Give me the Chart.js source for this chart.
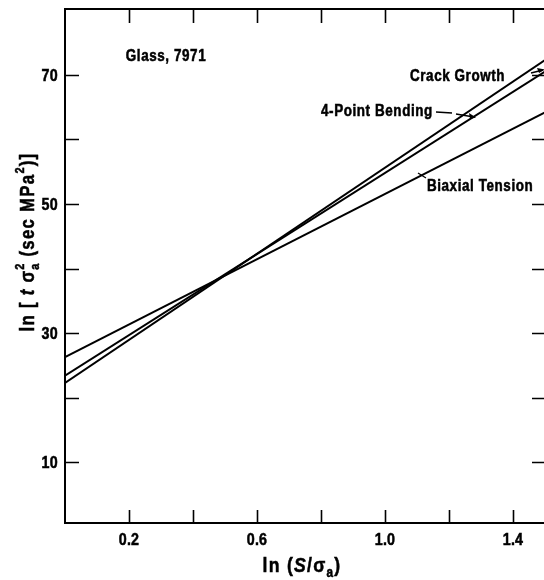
<!DOCTYPE html>
<html>
<head>
<meta charset="utf-8">
<script src="https://cdn.jsdelivr.net/npm/chart.js@4/dist/chart.umd.min.js"></script>
<style>
  html, body { margin: 0; padding: 0; background: #fff; width: 544px; height: 580px; overflow: hidden; }
  canvas { display: block; }
</style>
</head>
<body>
<canvas id="c" width="550" height="580"></canvas>
<script>
// ---- data ----
const xEnds = [0, 1.5];
const crackGrowth = [22.3, 72.3];
const fourPointBending = [23.4, 70.5];
const biaxialTension = [26.3, 64.2];

const xTickValues = [0.2, 0.4, 0.6, 0.8, 1.0, 1.2, 1.4];
const xTickLabels = ['0.2', '0.6', '1.0', '1.4'];
const yTickValues = [10, 20, 30, 40, 50, 60, 70];
const yTickLabels = ['10', '30', '50', '70'];

const seriesNames = ['Crack Growth', '4-Point Bending', 'Biaxial Tension'];
const noteText = 'Glass, 7971';

// ---- styling / layout ----
const FF = "'Liberation Sans', Arial, sans-serif";
const SX = 0.84; // horizontal condensing to mimic a condensed face
const TEXT_STROKE = 0.45;

const annotations = [
  { text: noteText,       x: 0.19,  y: 73.0 },
  { text: seriesNames[0], x: 1.078, y: 70.0 },
  { text: seriesNames[1], x: 0.80,  y: 64.5 },
  { text: seriesNames[2], x: 1.131, y: 52.9 }
];

function pts(xs, ys) { return xs.map((x, i) => ({ x: x, y: ys[i] })); }

function fontOf(s) { return (s.italic ? 'italic ' : '') + 'bold ' + s.size + 'px ' + FF; }

function heavyText(ctx, t) {
  ctx.fillText(t, 0, 0);
  ctx.lineWidth = TEXT_STROKE / SX;
  ctx.strokeText(t, 0, 0);
}

function richWidth(ctx, segs) {
  let cx = 0, prevStart = 0, prevW = 0;
  for (const s of segs) {
    ctx.font = fontOf(s);
    const w = ctx.measureText(s.t).width * SX;
    if (s.stack) { cx = prevStart + Math.max(prevW, w); prevW = Math.max(prevW, w); }
    else { prevStart = cx; prevW = w; cx += w; }
  }
  return cx;
}
function drawRich(ctx, segs, x, y) {
  let cx = x, prevStart = x, prevW = 0;
  for (const s of segs) {
    ctx.font = fontOf(s);
    const w = ctx.measureText(s.t).width * SX;
    let at;
    if (s.stack) { at = prevStart; cx = prevStart + Math.max(prevW, w); prevW = Math.max(prevW, w); }
    else { at = cx; prevStart = cx; prevW = w; cx += w; }
    ctx.save();
    ctx.translate(at, y + (s.dy || 0));
    ctx.scale(SX, 1);
    heavyText(ctx, s.t);
    ctx.restore();
  }
}
function condensedText(ctx, t, x, y, align) {
  const w = ctx.measureText(t).width * SX;
  let x0 = x;
  if (align === 'right') x0 = x - w;
  else if (align === 'center') x0 = x - w / 2;
  ctx.save();
  ctx.translate(x0, y);
  ctx.scale(SX, 1);
  ctx.textAlign = 'left';
  heavyText(ctx, t);
  ctx.restore();
}

const framePlugin = {
  id: 'frame',
  afterDraw(chart) {
    const ctx = chart.ctx;
    const xs = chart.scales.x, ys = chart.scales.y;
    const a = chart.chartArea;
    ctx.save();
    ctx.strokeStyle = '#000';
    ctx.fillStyle = '#000';
    ctx.lineWidth = 2;
    ctx.beginPath();
    ctx.moveTo(a.left, a.top); ctx.lineTo(a.right, a.top);
    ctx.moveTo(a.left, a.top - 1); ctx.lineTo(a.left, a.bottom + 1);
    ctx.moveTo(a.left, a.bottom); ctx.lineTo(a.right, a.bottom);
    ctx.moveTo(a.right, a.top); ctx.lineTo(a.right, a.bottom);
    ctx.stroke();
    ctx.lineWidth = 1.6;
    ctx.beginPath();
    for (const v of xTickValues) {
      const px = Math.round(xs.getPixelForValue(v)) + 0.5;
      ctx.moveTo(px, a.bottom); ctx.lineTo(px, a.bottom - 13);
      ctx.moveTo(px, a.top); ctx.lineTo(px, a.top + 14);
    }
    for (const v of yTickValues) {
      const py = Math.round(ys.getPixelForValue(v)) + 0.5;
      ctx.moveTo(a.left, py); ctx.lineTo(a.left + 14, py);
      ctx.moveTo(a.right, py); ctx.lineTo(a.right - 13, py);
    }
    ctx.stroke();

    // tick labels, placed through the scales
    ctx.textBaseline = 'alphabetic';
    ctx.font = 'bold 17px ' + FF;
    ctx.letterSpacing = '0.3px';
    for (const t of xTickLabels) {
      condensedText(ctx, t, xs.getPixelForValue(parseFloat(t)), a.bottom + 22, 'center');
    }
    for (const t of yTickLabels) {
      condensedText(ctx, t, a.left - 7, ys.getPixelForValue(parseFloat(t)) + 6, 'right');
    }

    // annotations
    ctx.font = 'bold 16px ' + FF;
    ctx.letterSpacing = '0.7px';
    for (const an of annotations) {
      condensedText(ctx, an.text, xs.getPixelForValue(an.x), ys.getPixelForValue(an.y) + 6, 'left');
    }
    ctx.letterSpacing = '0px';

    // leaders
    ctx.lineWidth = 1.3;
    ctx.beginPath();
    ctx.moveTo(436, 112); ctx.lineTo(452, 113);
    ctx.moveTo(456, 114); ctx.lineTo(474, 117);
    ctx.moveTo(418, 173); ctx.lineTo(426, 178);
    ctx.moveTo(531, 73); ctx.lineTo(543, 70);
    ctx.stroke();
    ctx.beginPath();
    ctx.moveTo(476, 117.5); ctx.lineTo(469, 113); ctx.lineTo(470, 119); ctx.closePath();
    ctx.moveTo(545, 69.5); ctx.lineTo(537, 68); ctx.lineTo(539, 73); ctx.closePath();
    ctx.fill();

    // axis titles
    ctx.letterSpacing = '1.5px';
    const xt = [
      { t: 'ln (', size: 21 },
      { t: 'S', size: 21, italic: true },
      { t: '/\u03C3', size: 21 },
      { t: 'a', size: 14, dy: 5 },
      { t: ')', size: 21 }
    ];
    const xw = richWidth(ctx, xt);
    drawRich(ctx, xt, 302 - xw / 2, 572);

    const yt = [
      { t: 'ln [ ', size: 20 },
      { t: 't', size: 20, italic: true },
      { t: ' \u03C3', size: 20 },
      { t: 'a', size: 13, dy: 5 },
      { t: '2', size: 13, dy: -10, stack: true },
      { t: ' (sec MPa', size: 20 },
      { t: '2', size: 13, dy: -10 },
      { t: ')]', size: 20 }
    ];
    const yw = richWidth(ctx, yt);
    ctx.translate(34, 242);
    ctx.rotate(-Math.PI / 2);
    drawRich(ctx, yt, -yw / 2, 0);
    ctx.restore();
  }
};

new Chart(document.getElementById('c'), {
  type: 'scatter',
  data: {
    datasets: [
      { label: seriesNames[0], data: pts(xEnds, crackGrowth) },
      { label: seriesNames[1], data: pts(xEnds, fourPointBending) },
      { label: seriesNames[2], data: pts(xEnds, biaxialTension) }
    ].map(d => Object.assign(d, {
      showLine: true, borderColor: '#000', backgroundColor: '#000',
      borderWidth: 2, pointRadius: 0, tension: 0
    }))
  },
  options: {
    responsive: false,
    animation: false,
    devicePixelRatio: 1,
    layout: { padding: { top: 9, right: 5, left: 0, bottom: 0 } },
    plugins: { legend: { display: false }, tooltip: { enabled: false } },
    scales: {
      x: {
        type: 'linear', min: 0, max: 1.5,
        grid: { display: false }, border: { display: false },
        afterBuildTicks: s => { s.ticks = xTickValues.map(v => ({ value: v })); },
        afterFit: s => { s.height = 57; s.paddingLeft = 0; s.paddingRight = 0; },
        ticks: { display: false }
      },
      y: {
        type: 'linear', min: 0.6, max: 80.2,
        grid: { display: false }, border: { display: false },
        afterBuildTicks: s => { s.ticks = yTickValues.map(v => ({ value: v })); },
        afterFit: s => { s.width = 65; s.paddingTop = 0; s.paddingBottom = 0; },
        ticks: { display: false }
      }
    }
  },
  plugins: [framePlugin]
});
</script>
</body>
</html>
